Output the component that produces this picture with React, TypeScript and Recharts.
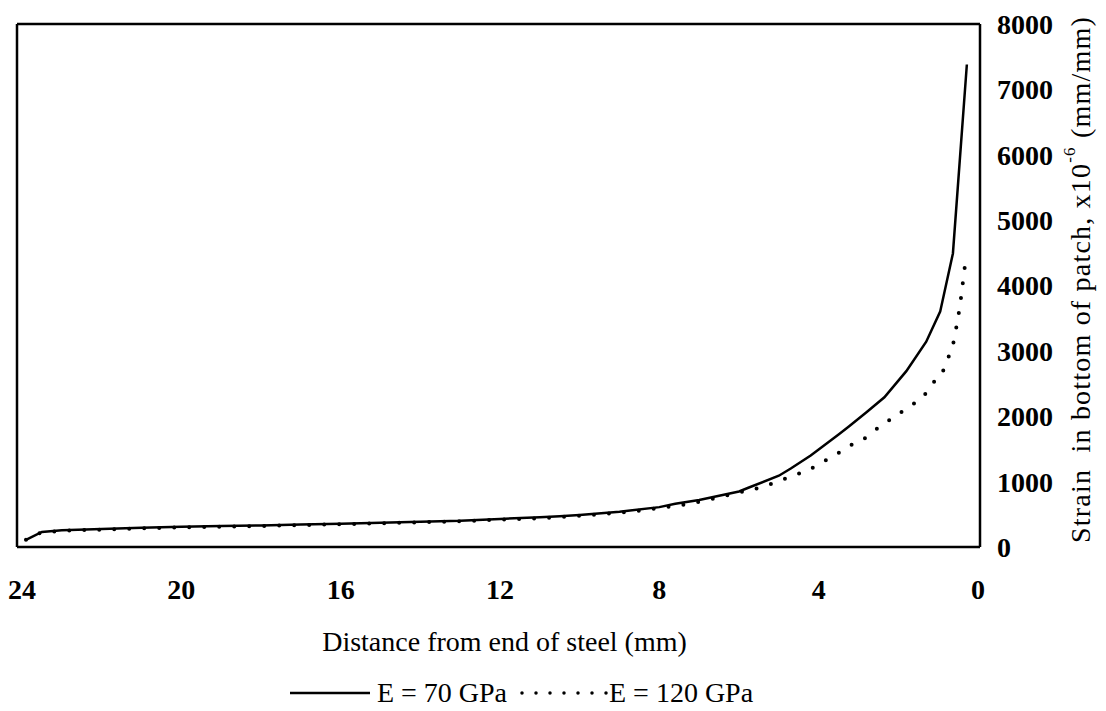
import React from 'react';
import { LineChart, Line, XAxis, YAxis, Legend, ReferenceLine } from 'recharts';

// Distance from end of steel (mm) and strain (x10^-6)
const distances70 = [23.9, 23.5, 23, 22, 21, 20, 19, 18, 17, 16, 15, 14, 13, 12, 11, 10.5, 10, 9, 8, 7.6, 7, 6, 5.75, 5, 4.7, 4.2, 4, 3.5, 3.25, 2.8, 2.35, 1.8, 1.3, 0.95, 0.63, 0.28];
const strain70 = [110, 230, 255, 275, 295, 310, 320, 330, 345, 355, 370, 385, 400, 430, 455, 470, 490, 540, 610, 660, 720, 850, 910, 1090, 1200, 1400, 1490, 1720, 1840, 2060, 2290, 2690, 3140, 3600, 4490, 7380];

const distances120 = [23.9, 23.5, 23, 22, 21, 20, 19, 18, 17, 16, 15, 14, 13, 12, 11, 10, 9, 8, 7, 6.1, 5.75, 5.35, 5, 4.65, 4.25, 3.9, 3.55, 3.18, 2.8, 2.47, 2.1, 1.75, 1.38, 1.1, 0.92, 0.8, 0.63, 0.55, 0.47, 0.4, 0.35, 0.25];
const strain120 = [110, 220, 245, 265, 285, 300, 312, 322, 335, 348, 362, 378, 395, 418, 440, 478, 525, 595, 690, 820, 870, 930, 1010, 1090, 1180, 1300, 1420, 1560, 1680, 1840, 1990, 2140, 2300, 2530, 2630, 2830, 3090, 3340, 3630, 3940, 4210, 4470];

const xTicks = [24, 20, 16, 12, 8, 4, 0];
const yTicks = [0, 1000, 2000, 3000, 4000, 5000, 6000, 7000, 8000];

const seriesNames = ['E = 70 GPa', 'E = 120 GPa'];

const data70 = distances70.map((d, i) => ({ d, strain: strain70[i] }));
const data120 = distances120.map((d, i) => ({ d, strain: strain120[i] }));

const FONT = '"Liberation Serif", "Times New Roman", serif';
const X_DOMAIN: [number, number] = [-0.05, 24.125];

const tickStyle = { fontFamily: FONT, fontSize: 28, fontWeight: 'bold' as const, fill: '#000' };

const YTitle = ({ viewBox }: any) => {
  const cx = viewBox.x + 100;
  const cy = viewBox.y + viewBox.height / 2 - 6;
  return (
    <text
      x={cx}
      y={cy}
      transform={`rotate(-90 ${cx} ${cy})`}
      textAnchor="middle"
      dominantBaseline="central"
      style={{ fontFamily: FONT, fontSize: 28, letterSpacing: 1.2, fill: '#000' }}
    >
      <tspan>{'Strain\u00a0 in bottom of patch, x10'}</tspan>
      <tspan dy={-11} fontSize={17}>-6</tspan>
      <tspan dy={11}>{' (mm/mm)'}</tspan>
    </text>
  );
};

const LegendContent = () => (
  <div
    style={{
      display: 'flex',
      justifyContent: 'center',
      alignItems: 'center',
      fontFamily: FONT,
      fontSize: 28,
      lineHeight: '32px',
      color: '#000',
      paddingTop: 16,
    }}
  >
    <svg width={80} height={10}>
      <line x1={0} y1={5} x2={80} y2={5} stroke="#000" strokeWidth={2.5} />
    </svg>
    <span style={{ marginLeft: 7 }}>{seriesNames[0]}</span>
    <svg width={90} height={10} style={{ marginLeft: 12 }}>
      <line x1={3} y1={5} x2={90} y2={5} stroke="#000" strokeWidth={3.5} strokeDasharray="0 14" strokeLinecap="round" />
    </svg>
    <span>{seriesNames[1]}</span>
  </div>
);

const StrainChart: React.FC = () => {
  return (
    <div style={{ position: 'absolute', left: 0, top: 0, background: '#fff' }}>
      <LineChart width={1106} height={711} margin={{ top: 24, right: 0, bottom: 0, left: 17 }}>
        <XAxis
          type="number"
          dataKey="d"
          domain={X_DOMAIN}
          reversed
          allowDataOverflow
          ticks={xTicks}
          tickLine={false}
          tickSize={0}
          tickMargin={32}
          tick={tickStyle}
          stroke="#000"
          strokeWidth={2.5}
          height={114}
          label={{
            value: 'Distance from end of steel (mm)',
            position: 'insideBottom',
            offset: 10,
            dx: 6,
            style: { fontFamily: FONT, fontSize: 28, fill: '#000' },
          }}
        />
        <YAxis
          orientation="right"
          domain={[0, 8000]}
          ticks={yTicks}
          tickLine={false}
          tickSize={0}
          tickMargin={17}
          tick={tickStyle}
          stroke="#000"
          strokeWidth={2.5}
          width={126}
          label={{ content: (props: any) => <YTitle viewBox={props.viewBox} /> }}
        />
        <ReferenceLine y={8000} stroke="#000" strokeWidth={2.5} />
        <ReferenceLine x={X_DOMAIN[1]} stroke="#000" strokeWidth={2.5} />
        <Legend
          verticalAlign="bottom"
          height={50}
          wrapperStyle={{ left: 40, width: 963 }}
          content={() => <LegendContent />}
        />
        <Line
          data={data70}
          dataKey="strain"
          name={seriesNames[0]}
          stroke="#000"
          strokeWidth={2.5}
          dot={false}
          type="linear"
          isAnimationActive={false}
        />
        <Line
          data={data120}
          dataKey="strain"
          name={seriesNames[1]}
          stroke="#000"
          strokeWidth={4}
          strokeDasharray="0 15"
          strokeLinecap="round"
          dot={false}
          type="monotone"
          isAnimationActive={false}
        />
      </LineChart>
    </div>
  );
};

export default StrainChart;
